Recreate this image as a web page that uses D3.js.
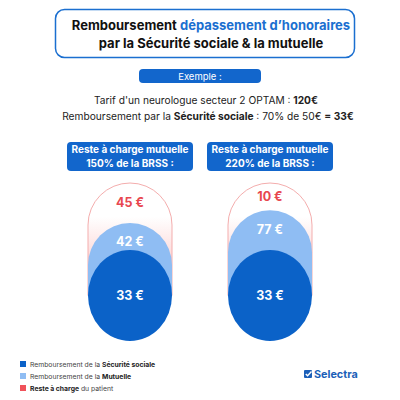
<!DOCTYPE html>
<html><head><meta charset="utf-8">
<script src="https://cdn.jsdelivr.net/npm/d3@7"></script>
<style>body{margin:0;background:#fff}svg{display:block;font-family:Inter,"Noto Sans",sans-serif}</style>
</head><body>
<svg id="c" width="400" height="400"></svg>
<script>
const scenarioLine1 = ["Reste à charge mutuelle", "Reste à charge mutuelle"];
const scenarioLine2 = ["150% de la BRSS :", "220% de la BRSS :"];
const secu = [33, 33];
const mutuelle = [42, 77];
const reste = [45, 10];
const total = 120;
const legendItems = [
  {pre:"Remboursement de la ", bold:"Sécurité sociale", post:"", color:"#0b62c8"},
  {pre:"Remboursement de la ", bold:"Mutuelle", post:"", color:"#8fbdf3"},
  {pre:"", bold:"Reste à charge", post:" du patient", color:"#f0525a"}
];

const svg = d3.select("#c");
const BLUE = "#0b62c8", LIGHT = "#8fbdf3", RED = "#e8474f";

// Title box
svg.append("rect").attr("x",55.5).attr("y",9.5).attr("width",299).attr("height",48).attr("rx",9)
  .attr("fill","#fff").attr("stroke","#1b6fd0").attr("stroke-width",1.5);
const t1 = svg.append("text").attr("x",211).attr("y",30).attr("text-anchor","middle")
  .attr("font-size",13).attr("font-weight",700).attr("fill","#111");
t1.append("tspan").text("Remboursement ");
t1.append("tspan").attr("fill","#1b6fd0").text("dépassement d’honoraires");
svg.append("text").attr("x",211).attr("y",48).attr("text-anchor","middle")
  .attr("font-size",13).attr("font-weight",700).attr("fill","#111")
  .text("par la Sécurité sociale & la mutuelle");

// Exemple pill
svg.append("rect").attr("x",139).attr("y",69).attr("width",122).attr("height",14).attr("rx",4).attr("fill","#1266cc");
svg.append("text").attr("x",200).attr("y",79.5).attr("text-anchor","middle").attr("font-size",9.5).attr("fill","#fff").text("Exemple :");

const l1 = svg.append("text").attr("x",206).attr("y",103.5).attr("text-anchor","middle").attr("font-size",10.2).attr("fill","#222");
l1.append("tspan").text("Tarif d'un neurologue secteur 2 OPTAM : ");
l1.append("tspan").attr("font-weight",700).text("120€");
const l2 = svg.append("text").attr("x",208).attr("y",119.5).attr("text-anchor","middle").attr("font-size",10.2).attr("fill","#222");
l2.append("tspan").text("Remboursement par la ");
l2.append("tspan").attr("font-weight",700).text("Sécurité sociale");
l2.append("tspan").text(" : 70% de 50€ ");
l2.append("tspan").attr("font-weight",700).text("= 33€");

// Scales
const x = d3.scaleBand().domain(d3.range(secu.length)).range([60, 340]);
const yTop = d3.scaleLog().domain([secu[0], total]).range([250, 207.5]);
const R = 42, RY = 45.5, capTop = 183;

const defs = svg.append("defs");
const g = defs.append("linearGradient").attr("id","rg").attr("x1",0).attr("y1",0).attr("x2",0).attr("y2",1);
g.append("stop").attr("offset","0%").attr("stop-color","#fff");
g.append("stop").attr("offset","30%").attr("stop-color","#fff");
g.append("stop").attr("offset","70%").attr("stop-color","#fcd6d6");
g.append("stop").attr("offset","100%").attr("stop-color","#f9c4c4");

function capsule(cx, top, bottom){
  return `M${cx-R},${bottom} L${cx-R},${top+R} A${R},${R} 0 0 1 ${cx+R},${top+R} L${cx+R},${bottom} Z`;
}

secu.forEach((s,i)=>{
  const cx = x(i) + x.bandwidth()/2;
  // label box
  svg.append("rect").attr("x",cx-63).attr("y",142).attr("width",126).attr("height",29).attr("rx",4).attr("fill","#1266cc");
  svg.append("text").attr("x",cx).attr("y",152.5).attr("text-anchor","middle").attr("font-size",10).attr("font-weight",700).attr("fill","#fff").text(scenarioLine1[i]);
  svg.append("text").attr("x",cx).attr("y",166.5).attr("text-anchor","middle").attr("font-size",10).attr("font-weight",700).attr("fill","#fff").text(scenarioLine2[i]);

  const secTop = yTop(s), mutTop = yTop(s + mutuelle[i]);
  svg.append("path").attr("d",capsule(cx, capTop, secTop+RY)).attr("fill","url(#rg)").attr("stroke","#f4adad").attr("stroke-width",1);
  svg.append("path").attr("d",capsule(cx, mutTop, secTop+RY)).attr("fill",LIGHT);
  svg.append("ellipse").attr("cx",cx).attr("cy",secTop+RY).attr("rx",R).attr("ry",RY).attr("fill",BLUE);

  svg.append("text").attr("x",cx).attr("y",(capTop+mutTop)/2+4.5).attr("text-anchor","middle").attr("font-size",12.5).attr("font-weight",700).attr("fill",RED).text(reste[i]+" €");
  svg.append("text").attr("x",cx).attr("y",Math.min(mutTop+19, secTop-8)+4.5).attr("text-anchor","middle").attr("font-size",12.5).attr("font-weight",700).attr("fill","#fff").text(mutuelle[i]+" €");
  svg.append("text").attr("x",cx).attr("y",secTop+RY+4.5).attr("text-anchor","middle").attr("font-size",12.5).attr("font-weight",700).attr("fill","#fff").text(s+" €");
});

// Legend
legendItems.forEach((d,i)=>{
  const y = 364 + i*12;
  svg.append("rect").attr("x",20).attr("y",y-3).attr("width",6).attr("height",6).attr("fill",d.color);
  const t = svg.append("text").attr("x",30).attr("y",y+2.5).attr("font-size",6.8).attr("fill","#444");
  if(d.pre) t.append("tspan").text(d.pre);
  t.append("tspan").attr("font-weight",700).attr("fill","#222").text(d.bold);
  if(d.post) t.append("tspan").text(d.post);
});

// Logo
const lg = svg.append("g").attr("transform","translate(304,370)");
lg.append("rect").attr("width",8).attr("height",8).attr("rx",1).attr("fill","#1b5fb8");
lg.append("path").attr("d","M1.8,4 L3.6,5.8 L7.5,1.5").attr("stroke","#fff").attr("stroke-width",1.4).attr("fill","none");
svg.append("text").attr("x",314).attr("y",378).attr("font-size",10.8).attr("font-weight",700).attr("fill","#1b5fb8").text("Selectra");
</script>
</body></html>
